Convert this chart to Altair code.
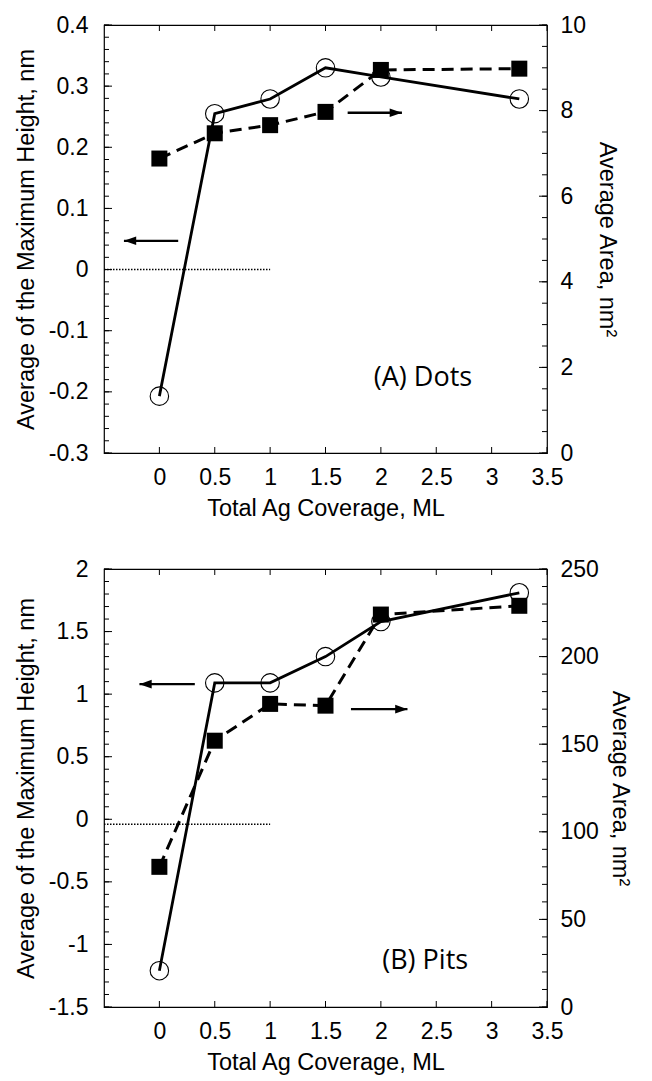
import altair as alt
import pandas as pd

# ---- data ----
coverage = [0, 0.5, 1, 1.5, 2, 3.25]

dots_height = [-0.207, 0.255, 0.279, 0.33, 0.315, 0.279]
dots_area = [6.88, 7.47, 7.66, 7.97, 8.95, 8.98]

pits_height = [-1.21, 1.09, 1.09, 1.30, 1.58, 1.81]
pits_area = [80, 152, 173, 172, 224, 229]

x_domain = [-0.5, 3.5]
x_ticks = [0, 0.5, 1, 1.5, 2, 2.5, 3, 3.5]

dots_left_domain = [-0.3, 0.4]
dots_left_ticks = [-0.3, -0.2, -0.1, 0, 0.1, 0.2, 0.3, 0.4]
dots_left_minor = 0.02
dots_right_domain = [0, 10]
dots_right_ticks = [0, 2, 4, 6, 8, 10]
dots_right_minor = 0.5

pits_left_domain = [-1.5, 2]
pits_left_ticks = [-1.5, -1, -0.5, 0, 0.5, 1, 1.5, 2]
pits_left_minor = 0.1
pits_right_domain = [0, 250]
pits_right_ticks = [0, 50, 100, 150, 200, 250]
pits_right_minor = 10

# arrows: (x_start, x_tip, y, axis side)
dots_arrows = [(0.17, -0.32, 0.047, "left"), (1.70, 2.19, 7.95, "right")]
pits_arrows = [(0.32, -0.18, 1.08, "left"), (1.73, 2.24, 170, "right")]

dots_label = ("(A) Dots", 2.38, -0.178)
pits_label = ("(B) Pits", 2.40, -1.13)

dots_zero = 0
pits_zero = -0.04
zero_line_x = [-0.5, 1.0]

LABEL_FONT = "Liberation Sans"
TICK_SIZE = 23
TITLE_SIZE = 23.5
HYPHEN_EXPR = "replace(format(datum.value, '~r'), '\u2212', '-')"


def minor_list(dom, step):
    n = int(round((dom[1] - dom[0]) / step))
    return [round(dom[0] + i * step, 6) for i in range(n + 1)]


def panel(height_vals, area_vals, ldom, lticks, lstep, rdom, rticks, rstep,
          arrows, label, zero_y, W, H):
    xs = alt.Scale(domain=x_domain, nice=False, zero=False)
    ls = alt.Scale(domain=ldom, nice=False, zero=False)
    rs = alt.Scale(domain=rdom, nice=False, zero=False)

    x_axis = alt.Axis(values=x_ticks, labelExpr=HYPHEN_EXPR, ticks=False, domain=False, grid=False,
                      labelPadding=13, title="Total Ag Coverage, ML",
                      titlePadding=7, labelFlush=False, labelOverlap=False)
    l_axis = alt.Axis(values=lticks, labelExpr=HYPHEN_EXPR, ticks=False, domain=False, grid=False,
                      labelPadding=16, title="Average of the Maximum Height, nm",
                      titlePadding=10, orient="left", labelOverlap=False)
    r_axis = alt.Axis(values=rticks, labelExpr=HYPHEN_EXPR, ticks=False, domain=False, grid=False,
                      labelPadding=13, title="Average Area, nm²",
                      titlePadding=9, orient="right", labelOverlap=False)

    X = lambda f: alt.X(f, type="quantitative", scale=xs, axis=x_axis)
    YL = lambda f: alt.Y(f, type="quantitative", scale=ls, axis=l_axis)
    YR = lambda f: alt.Y(f, type="quantitative", scale=rs, axis=r_axis)

    d = pd.DataFrame({"x": coverage, "h": height_vals, "a": area_vals})

    # left-scale layers
    h_line = alt.Chart(d).mark_line(color="black", strokeWidth=2.8).encode(x=X("x"), y=YL("h"))
    h_pts = alt.Chart(d).mark_point(shape="circle", size=340, filled=False,
                                    color="black", strokeWidth=1.1, opacity=1).encode(x=X("x"), y=YL("h"))

    zdf = pd.DataFrame({"x": [zero_line_x[0]], "x2": [zero_line_x[1]], "h": [zero_y]})
    zero_rule = alt.Chart(zdf).mark_rule(color="black", strokeWidth=1.5,
                                         strokeDash=[1.5, 1.5]).encode(
        x=X("x"), x2="x2", y=YL("h"))

    lmaj = pd.DataFrame({"h": lticks})
    lmin = pd.DataFrame({"h": minor_list(ldom, lstep)})
    l_major_t = alt.Chart(lmaj).mark_rule(color="black", strokeWidth=1).encode(
        y=YL("h"), x=alt.value(0), x2=alt.value(8))
    l_minor_t = alt.Chart(lmin).mark_rule(color="black", strokeWidth=1).encode(
        y=YL("h"), x=alt.value(0), x2=alt.value(5))

    xt = pd.DataFrame({"x": x_ticks})
    b_t = alt.Chart(xt).mark_rule(color="black", strokeWidth=1).encode(
        x=X("x"), y=alt.value(H), y2=alt.value(H - 6))
    t_t = alt.Chart(xt).mark_rule(color="black", strokeWidth=1).encode(
        x=X("x"), y=alt.value(0), y2=alt.value(6))

    la = [a for a in arrows if a[3] == "left"]
    ra = [a for a in arrows if a[3] == "right"]
    la_df = pd.DataFrame({"x": [a[0] for a in la], "x2": [a[1] for a in la], "h": [a[2] for a in la]})
    ra_df = pd.DataFrame({"x": [a[0] for a in ra], "x2": [a[1] for a in ra], "a": [a[2] for a in ra]})

    la_rule = alt.Chart(la_df).mark_rule(color="black", strokeWidth=2.4).encode(
        x=X("x"), x2="x2", y=YL("h"))
    la_head = alt.Chart(la_df).mark_point(
        shape="M 0 0 L 1 -0.35 L 1 0.35 Z", size=600, filled=True, color="black",
        opacity=1).encode(x=X("x2"), y=YL("h"))

    lab_df = pd.DataFrame({"t": [label[0]], "x": [label[1]], "h": [label[2]]})
    lab = alt.Chart(lab_df).mark_text(font="Open Sans", fontSize=27, color="black",
                                      align="center", baseline="middle").encode(
        x=X("x"), y=YL("h"), text="t:N")

    left_group = alt.layer(l_minor_t, l_major_t, b_t, t_t, zero_rule, la_rule, la_head,
                           h_line, h_pts, lab)

    # right-scale layers
    a_line = alt.Chart(d).mark_line(color="black", strokeWidth=3,
                                    strokeDash=[12, 7]).encode(x=X("x"), y=YR("a"))
    a_pts = alt.Chart(d).mark_point(shape="square", size=256, filled=True,
                                    color="black", opacity=1).encode(x=X("x"), y=YR("a"))
    rmaj = pd.DataFrame({"a": rticks})
    rmin = pd.DataFrame({"a": minor_list(rdom, rstep)})
    r_major_t = alt.Chart(rmaj).mark_rule(color="black", strokeWidth=1).encode(
        y=YR("a"), x=alt.value(W), x2=alt.value(W - 8))
    r_minor_t = alt.Chart(rmin).mark_rule(color="black", strokeWidth=1).encode(
        y=YR("a"), x=alt.value(W), x2=alt.value(W - 5))
    ra_rule = alt.Chart(ra_df).mark_rule(color="black", strokeWidth=2.4).encode(
        x=X("x"), x2="x2", y=YR("a"))
    ra_head = alt.Chart(ra_df).mark_point(
        shape="M 0 0 L -1 -0.35 L -1 0.35 Z", size=600, filled=True, color="black",
        opacity=1).encode(x=X("x2"), y=YR("a"))

    right_group = alt.layer(r_minor_t, r_major_t, ra_rule, ra_head, a_line, a_pts)

    return alt.layer(left_group, right_group).resolve_scale(y="independent").properties(
        width=W, height=H)


pA = panel(dots_height, dots_area, dots_left_domain, dots_left_ticks, dots_left_minor,
           dots_right_domain, dots_right_ticks, dots_right_minor,
           dots_arrows, dots_label, dots_zero, 443, 428)
pB = panel(pits_height, pits_area, pits_left_domain, pits_left_ticks, pits_left_minor,
           pits_right_domain, pits_right_ticks, pits_right_minor,
           pits_arrows, pits_label, pits_zero, 443, 438)

chart = alt.vconcat(pA, pB, spacing=36).configure_view(
    stroke="black", strokeWidth=1.2
).configure_axis(
    labelFont=LABEL_FONT, labelFontSize=TICK_SIZE, labelColor="black",
    titleFont=LABEL_FONT, titleFontSize=TITLE_SIZE, titleColor="black",
    titleFontWeight="normal"
).properties(background="white", padding=5)

chart.save("out.html", embed_options={"renderer": "svg", "actions": False})
